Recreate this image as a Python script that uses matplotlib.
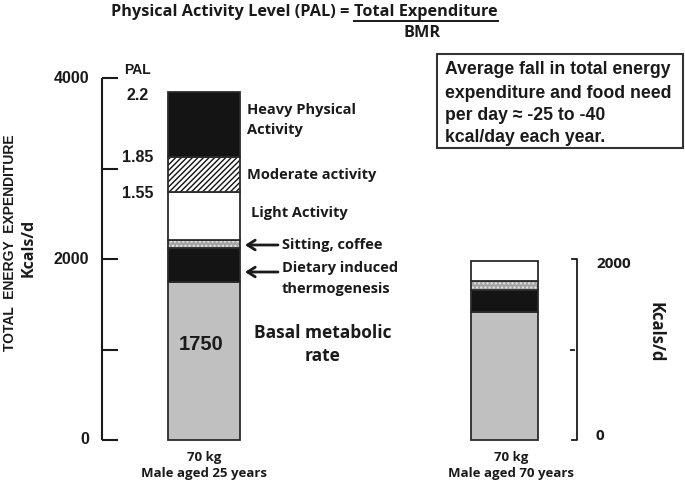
import matplotlib
matplotlib.use("Agg")
import matplotlib.pyplot as plt
from matplotlib.patches import Rectangle

# ---------------- data ----------------
categories = ["70 kg\nMale aged 25 years", "70 kg\nMale aged 70 years"]
components = ["Basal metabolic rate", "Dietary induced thermogenesis",
              "Sitting, coffee", "Light Activity", "Moderate activity",
              "Heavy Physical Activity"]
young_25 = [1750, 375, 90, 530, 385, 720]      # kcal/d per component
old_70 = [1420, 240, 100, 220, 0, 0]
left_ticks = [0, 1000, 2000, 3000, 4000]
left_tick_labels = ["0", "2000", "4000"]
right_ticks = [0, 1000, 2000]
right_tick_labels = ["0", "2000"]
pal_labels = ["2.2", "1.85", "1.55"]
bmr_value = 1750

# ---------------- layout ----------------
W, H = 685, 482
fig = plt.figure(figsize=(6.85, 4.82), dpi=100)
ax = fig.add_axes([0, 0, 1, 1])
PX = 0.0904          # pixels per kcal
Y0 = 440             # pixel row of 0 kcal


def yv(p):
    """pixel row -> data value (layout helper for text placement)"""
    return (Y0 - p) / PX


ax.set_xlim(0, W)
ax.set_ylim(yv(H), yv(0))
ax.axis("off")

CAL = ["Open Sans", "DejaVu Sans"]
ARI = ["Liberation Sans", "DejaVu Sans"]
DARK = "#1a1a1a"

bar_x = [204, 505]
bar_w = [72, 67]

face = ["#c0c0c0", "#141414", "#a4a4a4", "white", "white", "#141414"]
hatch = [None, None, "....", None, "//////", None]
hatch_col = [None, None, "#e6e6e6", None, "#111111", None]

for xc, w, vals in zip(bar_x, bar_w, [young_25, old_70]):
    bottom = 0
    for v, fc, ht, hc in zip(vals, face, hatch, hatch_col):
        if v <= 0:
            continue
        ax.bar(xc, v, w, bottom=bottom, color=fc, edgecolor="none", linewidth=0)
        if ht:
            ax.bar(xc, v, w, bottom=bottom, color="none", edgecolor=hc,
                   hatch=ht, linewidth=0)
        ax.bar(xc, v, w, bottom=bottom, color="none", edgecolor="#2b2b2b",
               linewidth=1.3)
        bottom += v

# ---------------- left axis ----------------
ax.plot([102, 102], [left_ticks[0], left_ticks[-1]], color=DARK, lw=1.5,
        solid_capstyle="butt")
ax.hlines(left_ticks, 102, 118, color=DARK, lw=1.5)
for lab in left_tick_labels:
    ax.text(89, float(lab), lab, ha="right", va="center", fontsize=11.5,
            fontweight="bold", family=ARI, color=DARK)

ax.text(10, yv(243), "TOTAL  ENERGY  EXPENDITURE", rotation=90, ha="center",
        va="center", fontsize=10, fontweight="bold", family=ARI, color=DARK)
ax.text(29, yv(248), "Kcals/d", rotation=90, ha="center", va="center",
        fontsize=11.5, fontweight="bold", family=CAL, color=DARK)

ax.text(137, yv(70), "PAL", ha="center", va="center", fontsize=10,
        fontweight="bold", family=ARI, color=DARK)
for lab, py in zip(pal_labels, [95, 157, 194]):
    ax.text(138, yv(py), lab, ha="center", va="center", fontsize=11.5,
            fontweight="bold", family=ARI, color=DARK)

# ---------------- right axis ----------------
ax.plot([572.5, 577, 577, 572.5],
        [right_ticks[-1], right_ticks[-1], right_ticks[0], right_ticks[0]],
        color=DARK, lw=1.3)
ax.hlines(right_ticks[1:-1], 570, 575, color=DARK, lw=1.3)
for lab, py in zip(right_tick_labels, [436, 264]):
    ax.text(596, yv(py), lab, ha="left", va="center", fontsize=11,
            fontweight="bold", family=CAL, color=DARK)
ax.text(656, yv(332), "Kcals/d", rotation=-90, ha="center", va="center",
        fontsize=12, fontweight="bold", family=CAL, color=DARK)

# ---------------- segment labels ----------------
lab_kw = dict(fontsize=10.5, fontweight="bold", family=CAL, color=DARK,
              va="center")
ax.text(247, yv(110), "Heavy Physical", ha="left", **lab_kw)
ax.text(247, yv(130), "Activity", ha="left", **lab_kw)
ax.text(247, yv(175), "Moderate activity", ha="left", **lab_kw)
ax.text(251, yv(213), "Light Activity", ha="left", **lab_kw)
ax.text(282, yv(245), "Sitting, coffee", ha="left", **lab_kw)
ax.text(282, yv(268), "Dietary induced", ha="left", **lab_kw)
ax.text(282, yv(289), "thermogenesis", ha="left", **lab_kw)
for py in (245, 272):
    ax.annotate("", xy=(245, yv(py)), xytext=(278, yv(py)),
                arrowprops=dict(arrowstyle="->,head_length=0.55,head_width=0.35",
                                lw=2, color=DARK, shrinkA=0, shrinkB=0))

ax.text(323, yv(333), "Basal metabolic", ha="center", va="center",
        fontsize=12.5, fontweight="bold", family=CAL, color=DARK)
ax.text(323, yv(356), "rate", ha="center", va="center",
        fontsize=12.5, fontweight="bold", family=CAL, color=DARK)
ax.text(bar_x[0] - 3, yv(345), str(bmr_value), ha="center", va="center",
        fontsize=14.5, fontweight="bold", family=ARI, color=DARK)

# ---------------- category labels ----------------
for xc, cat in zip([204, 511], categories):
    l1, l2 = cat.split("\n")
    ax.text(xc, yv(458), l1, ha="center", va="center", fontsize=9.5,
            fontweight="bold", family=CAL, color=DARK)
    ax.text(xc, yv(474), l2, ha="center", va="center", fontsize=9.5,
            fontweight="bold", family=CAL, color=DARK)

# ---------------- text box ----------------
ax.add_patch(Rectangle((437, yv(148)), 683 - 437, yv(54) - yv(148),
                       facecolor="white", edgecolor="#333333", lw=1.5))
box_lines = ["Average fall in total energy", "expenditure and food need",
             "per day \u2248 -25 to -40", "kcal/day each year."]
for line, py in zip(box_lines, [70, 93, 115.5, 138]):
    ax.text(445, yv(py), line, ha="left", va="center", fontsize=12.7,
            fontweight="bold", family=ARI, color=DARK)

# ---------------- title ----------------
t1 = ax.text(349, yv(12), "Physical Activity Level (PAL) =", ha="right",
             va="center", fontsize=11.7, fontweight="bold", family=CAL, color=DARK)
t2 = ax.text(354, yv(12), "Total Expenditure", ha="left", va="center",
             fontsize=11.7, fontweight="bold", family=CAL, color=DARK)
ax.text(422, yv(33), "BMR", ha="center", va="center", fontsize=11.7,
        fontweight="bold", family=CAL, color=DARK)
fig.canvas.draw()
bb = t2.get_window_extent()
inv = ax.transData.inverted()
(x0, _), (x1, _) = inv.transform([(bb.x0, 0), (bb.x1, 0)])
ax.plot([x0, x1], [yv(20.5), yv(20.5)], color=DARK, lw=1.4)

fig.savefig("out.png", dpi=100)
